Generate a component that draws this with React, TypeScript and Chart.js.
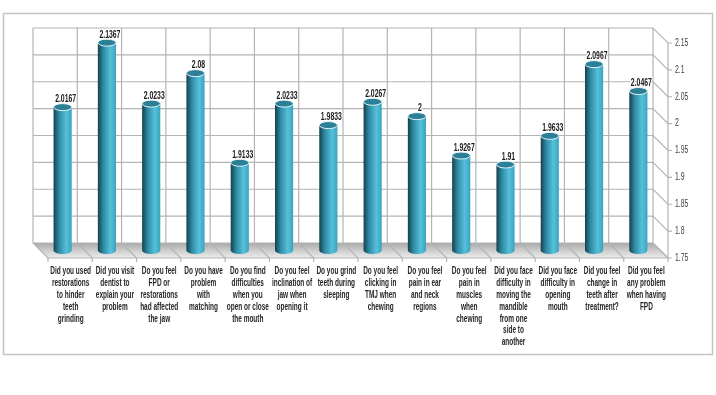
import { useEffect, useRef } from "react";
import { Chart, registerables } from "chart.js";

Chart.register(...registerables);

const categories: string[][] = [
  ["Did you used", "restorations", "to hinder", "teeth", "grinding"],
  ["Did you visit", "dentist to", "explain your", "problem"],
  ["Do you feel", "FPD or", "restorations", "had affected", "the jaw"],
  ["Do you have", "problem", "with", "matching"],
  ["Do you find", "difficulties", "when you", "open or close", "the mouth"],
  ["Do you feel", "inclination of", "jaw when", "opening it"],
  ["Do you grind", "teeth during", "sleeping"],
  ["Do you feel", "clicking in", "TMJ when", "chewing"],
  ["Do you feel", "pain in ear", "and neck", "regions"],
  ["Do you feel", "pain in", "muscles", "when", "chewing"],
  ["Did you face", "difficulty in", "moving the", "mandible", "from one", "side to", "another"],
  ["Did you face", "difficulty in", "opening", "mouth"],
  ["Did you feel", "change in", "teeth after", "treatment?"],
  ["Did you feel", "any problem", "when having", "FPD"],
];

const values: number[] = [
  2.0167, 2.1367, 2.0233, 2.08, 1.9133, 2.0233, 1.9833, 2.0267, 2, 1.9267, 1.91, 1.9633, 2.0967, 2.0467,
];

const valueLabels: string[] = [
  "2.0167", "2.1367", "2.0233", "2.08", "1.9133", "2.0233", "1.9833", "2.0267", "2", "1.9267", "1.91", "1.9633", "2.0967", "2.0467",
];

const yTicks: number[] = [1.75, 1.8, 1.85, 1.9, 1.95, 2, 2.05, 2.1, 2.15];
const yTickLabels: string[] = ["1.75", "1.8", "1.85", "1.9", "1.95", "2", "2.05", "2.1", "2.15"];

const FONT = "'Liberation Sans', Arial, sans-serif";
const CAT_FONT = `bold 10.5px ${FONT}`;
const VAL_FONT = `bold 10px ${FONT}`;
const TICK_FONT = `10px ${FONT}`;
const DEPTH = 15;
const GRID = "#b4b4b4";

function squeeze(ctx: CanvasRenderingContext2D, font: string, sample: string, target: number): number {
  ctx.save();
  ctx.font = font;
  const w = ctx.measureText(sample).width;
  ctx.restore();
  return w > 0 ? target / w : 0.72;
}

function drawText(ctx: CanvasRenderingContext2D, text: string, x: number, y: number, sx: number, halo?: boolean) {
  ctx.save();
  ctx.translate(x, y);
  ctx.scale(sx, 1);
  if (halo) {
    ctx.lineWidth = 2.5;
    ctx.strokeStyle = "rgba(255,255,255,0.9)";
    ctx.strokeText(text, 0, 0);
  }
  ctx.fillText(text, 0, 0);
  ctx.restore();
}

const scenePlugin = {
  id: "scene3d",
  beforeDatasetsDraw(chart: any) {
    const ctx = chart.ctx;
    const ys = chart.scales.y;
    const L = chart.chartArea.left;
    const R = chart.chartArea.right;
    const T = ys.getPixelForValue(yTicks[yTicks.length - 1]);
    const B = ys.getPixelForValue(yTicks[0]);
    const D = DEPTH;
    ctx.save();
    ctx.strokeStyle = "#c4c4c4";
    ctx.lineWidth = 1.5;
    ctx.strokeRect(3.5, 13.5, 709, 341);

    const g = ctx.createLinearGradient(0, B - D, 0, B);
    g.addColorStop(0, "#a9a9a9");
    g.addColorStop(0.5, "#cdcdcd");
    g.addColorStop(1, "#ececec");
    ctx.fillStyle = g;
    ctx.beginPath();
    ctx.moveTo(L - D, B - D);
    ctx.lineTo(R - D, B - D);
    ctx.lineTo(R, B);
    ctx.lineTo(L, B);
    ctx.closePath();
    ctx.fill();

    ctx.strokeStyle = GRID;
    ctx.lineWidth = 1.2;
    yTicks.forEach((v) => {
      const y = ys.getPixelForValue(v);
      ctx.beginPath();
      ctx.moveTo(L - D, y - D);
      ctx.lineTo(R - D, y - D);
      ctx.lineTo(R, y);
      ctx.lineTo(R + 4, y);
      ctx.stroke();
    });
    const n = categories.length;
    const step = (R - L) / n;
    for (let i = 0; i <= n; i++) {
      const x = L + i * step;
      ctx.beginPath();
      ctx.moveTo(x - D, T - D);
      ctx.lineTo(x - D, B - D);
      ctx.lineTo(x, B);
      ctx.lineTo(x, B + 4);
      ctx.stroke();
    }
    ctx.beginPath();
    ctx.moveTo(L, B);
    ctx.lineTo(R, B);
    ctx.moveTo(R, T);
    ctx.lineTo(R, B);
    ctx.stroke();

    // right axis labels
    const sxT = squeeze(ctx, TICK_FONT, "2.15", 13.3);
    ctx.fillStyle = "#404040";
    ctx.font = TICK_FONT;
    ctx.textAlign = "left";
    ctx.textBaseline = "middle";
    yTicks.forEach((v, i) => {
      drawText(ctx, yTickLabels[i], R + 7, ys.getPixelForValue(v), sxT);
    });

    // category labels
    const sxC = squeeze(ctx, CAT_FONT, "Did you feel", 36.7);
    const xs = chart.scales.x;
    ctx.fillStyle = "#262626";
    ctx.font = CAT_FONT;
    ctx.textAlign = "center";
    ctx.textBaseline = "middle";
    categories.forEach((lines, i) => {
      const x = xs.getPixelForTick(i);
      lines.forEach((line, j) => {
        drawText(ctx, line, x + 0.5, 271.5 + j * 11.8, sxC);
      });
    });
    ctx.restore();
  },
  afterDatasetsDraw(chart: any) {
    const ctx = chart.ctx;
    const meta = chart.getDatasetMeta(0);
    const D = DEPTH / 2;
    const sxV = squeeze(ctx, VAL_FONT, "2.0167", 21);
    ctx.save();
    meta.data.forEach((el: any, i: number) => {
      const cx = el.x - D;
      const top = el.y - D;
      const base = el.base - D;
      const rx = el.width / 2;
      const ry = 3.5;
      const grad = ctx.createLinearGradient(cx - rx, 0, cx + rx, 0);
      grad.addColorStop(0, "#16404c");
      grad.addColorStop(0.3, "#2e8aa3");
      grad.addColorStop(0.7, "#57c0da");
      grad.addColorStop(1, "#3aa3be");
      ctx.fillStyle = grad;
      ctx.beginPath();
      ctx.moveTo(cx - rx, top);
      ctx.lineTo(cx - rx, base);
      ctx.ellipse(cx, base, rx, ry, 0, Math.PI, 0, true);
      ctx.lineTo(cx + rx, top);
      ctx.closePath();
      ctx.fill();
      ctx.beginPath();
      ctx.ellipse(cx, top, rx, ry, 0, 0, Math.PI * 2);
      ctx.fillStyle = "#2b7f97";
      ctx.fill();
      ctx.strokeStyle = "#e4f3f7";
      ctx.lineWidth = 1;
      ctx.stroke();
      ctx.font = VAL_FONT;
      ctx.textAlign = "center";
      ctx.textBaseline = "alphabetic";
      ctx.fillStyle = "#1a1a1a";
      drawText(ctx, valueLabels[i], cx + 3, top - ry - 1.5, sxV, true);
    });
    ctx.restore();
  },
};

export default function App() {
  const ref = useRef<HTMLCanvasElement | null>(null);
  useEffect(() => {
    if (!ref.current) return;
    const chart = new Chart(ref.current, {
      type: "bar",
      data: {
        labels: categories,
        datasets: [
          {
            data: values,
            base: 1.75,
            backgroundColor: "rgba(0,0,0,0)",
            borderWidth: 0,
            categoryPercentage: 1,
            barPercentage: 0.41,
          },
        ],
      },
      options: {
        animation: false,
        responsive: true,
        maintainAspectRatio: false,
        layout: { padding: { left: 48, right: 48, top: 43, bottom: 27 } },
        plugins: { legend: { display: false }, tooltip: { enabled: false } },
        scales: {
          x: {
            grid: { display: false, drawTicks: false },
            border: { display: false },
            ticks: { display: false, autoSkip: false },
            afterFit: (scale: any) => {
              scale.height = 110;
            },
          },
          y: {
            display: false,
            min: 1.75,
            max: 2.15,
          },
        },
      },
      plugins: [scenePlugin],
    });
    return () => chart.destroy();
  }, []);
  return (
    <div style={{ position: "absolute", left: 0, top: 0, width: 716, height: 395, background: "#fff" }}>
      <canvas ref={ref} />
    </div>
  );
}
